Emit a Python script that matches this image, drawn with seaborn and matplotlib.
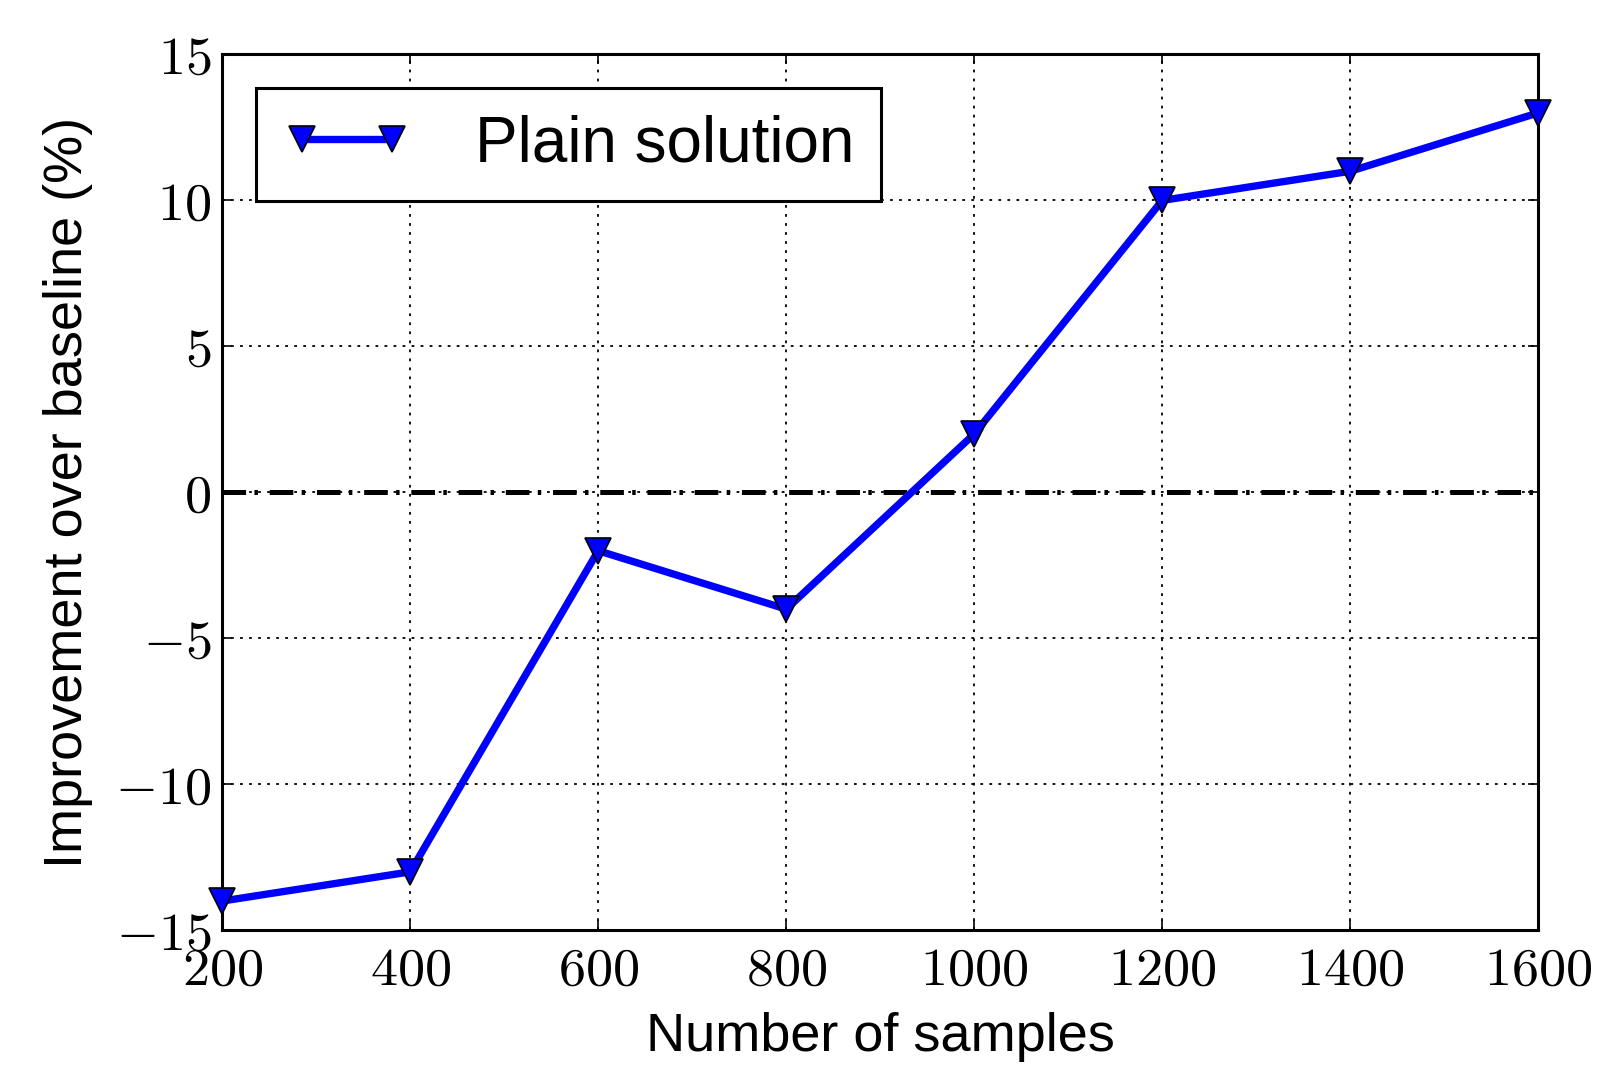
import matplotlib
matplotlib.use("Agg")
import matplotlib.pyplot as plt
import matplotlib.ticker as ticker
import pandas as pd
import seaborn as sns

samples = [200, 400, 600, 800, 1000, 1200, 1400, 1600]
improvement = [-14, -13, -2, -4, 2, 10, 11, 13]
series_name = "Plain solution"

sns.set_style("ticks")
plt.rcParams.update({
    "font.family": ["Liberation Sans", "DejaVu Sans"],
    "mathtext.fontset": "cm",
    "text.color": "black", "axes.labelcolor": "black",
    "xtick.color": "black", "ytick.color": "black",
    "xtick.direction": "in", "ytick.direction": "in",
    "xtick.top": True, "ytick.right": True,
    "lines.scale_dashes": False,
})

df = pd.DataFrame({"samples": samples, "improvement": improvement})

fig = plt.figure(figsize=(15.99, 10.68), dpi=100)
ax = fig.add_axes([0.139, 0.129, 0.823, 0.82])

# zero reference line, dash-dot
ax.axhline(0, color="black", lw=3.6, linestyle=(0, (17, 6, 2.5, 8.5)), zorder=2)
sns.lineplot(data=df, x="samples", y="improvement", ax=ax, color="blue", lw=5.3,
             marker="v", markersize=19, markerfacecolor="blue", markeredgecolor="black",
             markeredgewidth=1.2, label=series_name, zorder=3, clip_on=False)

ax.set_xlim(200, 1600)
ax.set_ylim(-15, 15)
ax.xaxis.set_major_locator(ticker.MultipleLocator(200))
ax.yaxis.set_major_locator(ticker.MultipleLocator(5))
fmt = ticker.FuncFormatter(lambda v, p: f"${v:g}$")
ax.xaxis.set_major_formatter(fmt)
ax.yaxis.set_major_formatter(fmt)
ax.tick_params(labelsize=39, length=7, width=1.2, pad=8)
ax.tick_params(axis="x", pad=11)
ax.grid(True, color="black", linestyle=(0, (2, 4.5)), lw=1.3)

for s in ax.spines.values():
    s.set_linewidth(2.2)
    s.set_color("black")

ax.set_xlabel("Number of samples", fontsize=39, labelpad=12)
ax.set_ylabel("Improvement over baseline (%)", fontsize=39, labelpad=16)

leg = ax.legend(loc="upper left", fontsize=46, numpoints=2, fancybox=False,
                edgecolor="black", framealpha=1, handlelength=2.0, borderpad=0.42,
                handletextpad=1.0, borderaxespad=0, bbox_to_anchor=(0.026, 0.962))
leg.get_frame().set_linewidth(2.2)

fig.savefig("out.png", dpi=100)
